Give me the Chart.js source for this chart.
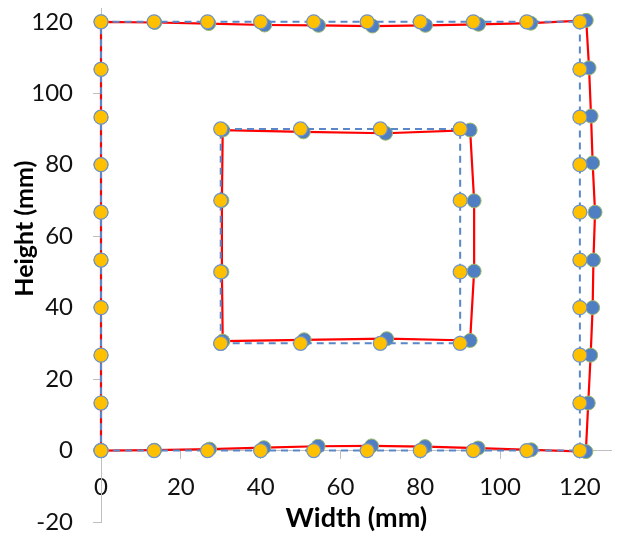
<!DOCTYPE html>
<html>
<head>
<meta charset="utf-8">
<script src="https://cdn.jsdelivr.net/npm/chart.js@4"></script>
<style>
  html, body { margin: 0; padding: 0; background: #fff; }
  #wrap { width: 620px; height: 541px; }
</style>
</head>
<body>
<div id="wrap"><canvas id="chart"></canvas></div>
<script>
// nominal outer square (mm)
const nominalOuterX = [0, 13.3, 26.7, 40, 53.3, 66.7, 80, 93.3, 106.7, 120,
  120, 120, 120, 120, 120, 120, 120, 120, 120,
  106.7, 93.3, 80, 66.7, 53.3, 40, 26.7, 13.3, 0,
  0, 0, 0, 0, 0, 0, 0, 0, 0];
const nominalOuterY = [0, 0, 0, 0, 0, 0, 0, 0, 0, 0,
  13.3, 26.7, 40, 53.3, 66.7, 80, 93.3, 106.7, 120,
  120, 120, 120, 120, 120, 120, 120, 120, 120,
  106.7, 93.3, 80, 66.7, 53.3, 40, 26.7, 13.3, 0];

// measured outer square (mm)
const measuredOuterX = [0, 13.4, 27.2, 40.8, 54.4, 67.8, 81.2, 94.5, 107.8, 121.5,
  122.1, 122.7, 123.2, 123.4, 123.8, 123.2, 122.8, 122.3, 121.6,
  107.7, 94.6, 81.3, 68, 54.5, 41, 27, 13.5, 0,
  0, 0, 0, 0, 0, 0, 0, 0, 0];
const measuredOuterY = [0, 0.1, 0.4, 0.8, 1.2, 1.3, 1.1, 0.7, 0.2, -0.3,
  13.3, 26.7, 40, 53.3, 66.7, 80.5, 93.6, 107.1, 120.4,
  119.6, 119.3, 119, 118.8, 119, 119.1, 119.5, 119.8, 120,
  106.7, 93.3, 80, 66.7, 53.3, 40, 26.7, 13.3, 0];

// nominal inner square (mm)
const nominalInnerX = [30, 50, 70, 90, 90, 90, 90, 70, 50, 30, 30, 30, 30];
const nominalInnerY = [30, 30, 30, 30, 50, 70, 90, 90, 90, 90, 70, 50, 30];

// measured inner square (mm)
const measuredInnerX = [30.5, 50.9, 71.6, 92.5, 93.5, 93.5, 92.5, 71.3, 50.7, 30.5, 30.3, 30.3, 30.5];
const measuredInnerY = [30.6, 31, 31.3, 30.8, 50.2, 69.9, 89.7, 88.8, 89.2, 89.7, 70, 50, 30.6];

const xTicks = [0, 20, 40, 60, 80, 100, 120];
const yTicks = [-20, 0, 20, 40, 60, 80, 100, 120];

const pts = (xs, ys) => xs.map((x, i) => ({ x: x, y: ys[i] }));

const nominalStyle = {
  showLine: true,
  borderColor: '#5A87C8',
  borderWidth: 2,
  borderDash: [7, 5],
  pointRadius: 7,
  pointBackgroundColor: '#FFC000',
  pointBorderColor: '#6F93C9',
  pointBorderWidth: 1.2,
  clip: false
};
const measuredStyle = {
  showLine: true,
  borderColor: '#FF0000',
  borderWidth: 2.2,
  pointRadius: 7,
  pointBackgroundColor: '#4F7EC2',
  pointBorderColor: '#9DBA6B',
  pointBorderWidth: 1,
  clip: false
};

// use exactly the listed tick values
const fixedTicks = list => scale => {
  scale.ticks = list.map(v => ({ value: v }));
};

// leading spaces push the rotated title up, like Excel places it
const yTitle = '\u00A0'.repeat(12) + 'Height (mm)';

new Chart(document.getElementById('chart'), {
  type: 'scatter',
  data: {
    datasets: [
      Object.assign({ label: 'Nominal outer', data: pts(nominalOuterX, nominalOuterY) }, nominalStyle),
      Object.assign({ label: 'Nominal inner', data: pts(nominalInnerX, nominalInnerY) }, nominalStyle),
      Object.assign({ label: 'Measured outer', data: pts(measuredOuterX, measuredOuterY) }, measuredStyle),
      Object.assign({ label: 'Measured inner', data: pts(measuredInnerX, measuredInnerY) }, measuredStyle)
    ]
  },
  options: {
    responsive: true,
    maintainAspectRatio: false,
    animation: false,
    layout: { padding: { top: 0, right: 6, bottom: 19, left: 10 } },
    plugins: { legend: { display: false }, tooltip: { enabled: false } },
    scales: {
      x: {
        type: 'linear',
        position: { y: 0 },
        min: 0,
        max: 128,
        afterBuildTicks: fixedTicks(xTicks),
        ticks: { color: '#111', padding: 14, font: { family: 'Lato', size: 24 } },
        grid: { drawOnChartArea: false, tickLength: 8, color: '#BFBFBF' },
        border: { color: '#BFBFBF', width: 1 },
        title: { display: true, text: 'Width (mm)', color: '#000', padding: { top: -13, bottom: 0 },
          font: { family: 'Lato', size: 27, weight: 'bold' } }
      },
      y: {
        type: 'linear',
        position: 'left',
        min: -20,
        max: 123.8,
        afterBuildTicks: fixedTicks(yTicks),
        afterFit: s => { s.width = 91; s.paddingTop = 0; s.paddingBottom = 0; },
        ticks: { color: '#111', padding: 20, font: { family: 'Lato', size: 24 } },
        grid: { drawOnChartArea: false, tickLength: 8, color: '#BFBFBF' },
        border: { color: '#BFBFBF', width: 1 },
        title: { display: true, text: yTitle, color: '#000', padding: 0,
          font: { family: 'Lato', size: 25, weight: 'bold' } }
      }
    }
  }
});
</script>
</body>
</html>
